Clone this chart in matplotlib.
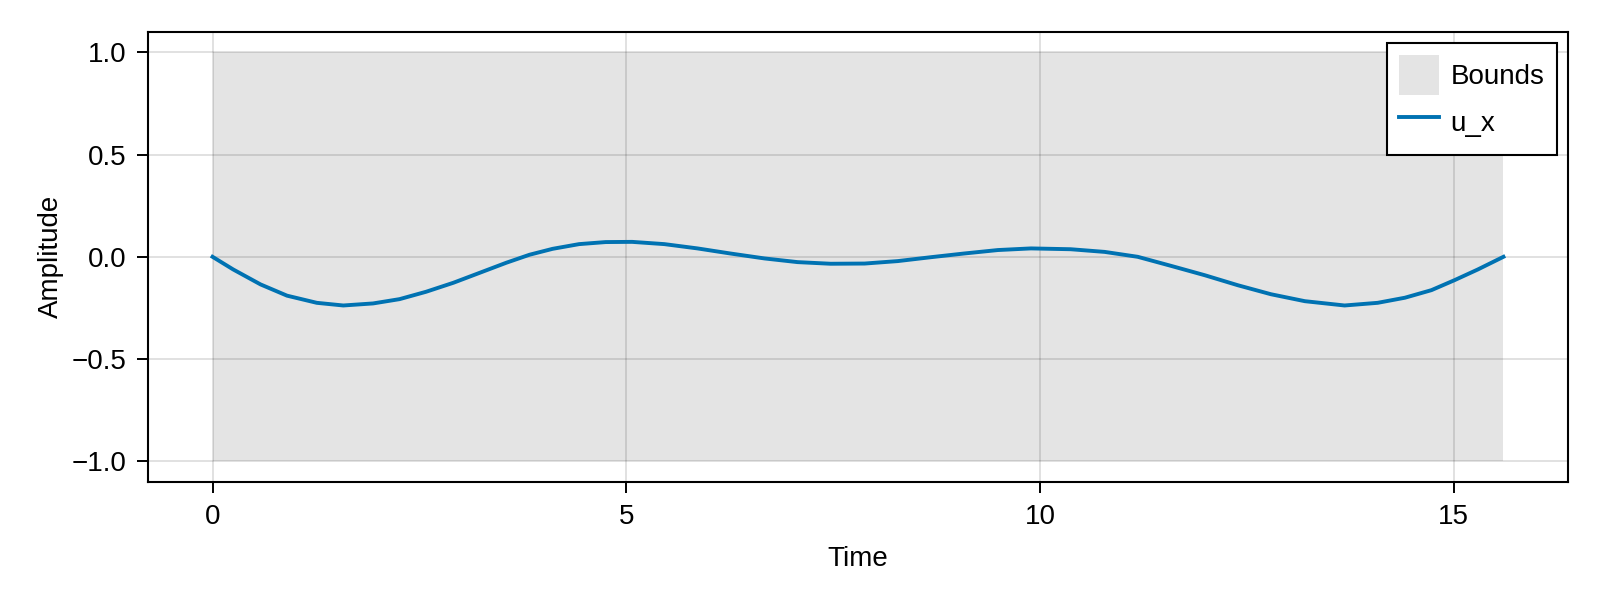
import matplotlib
matplotlib.use("Agg")
import matplotlib.pyplot as plt
from matplotlib.patches import Patch
from matplotlib.lines import Line2D

plt.rcParams['font.family'] = ['Liberation Sans', 'DejaVu Sans']
plt.rcParams['axes.unicode_minus'] = True

# Data
time = [0.0, 0.25, 0.58, 0.90, 1.26, 1.58, 1.94, 2.26, 2.58, 2.91, 3.23, 3.55,
        3.83, 4.11, 4.43, 4.75, 5.07, 5.46, 5.86, 6.26, 6.67, 7.07, 7.47, 7.88,
        8.28, 8.68, 9.08, 9.49, 9.89, 10.37, 10.78, 11.18, 11.58, 11.99, 12.39,
        12.79, 13.20, 13.68, 14.08, 14.41, 14.73, 15.01, 15.29, 15.60]
u_x = [0.0, -0.062, -0.135, -0.190, -0.225, -0.238, -0.228, -0.207, -0.171,
       -0.127, -0.078, -0.029, 0.010, 0.039, 0.062, 0.072, 0.073, 0.062, 0.041,
       0.016, -0.008, -0.026, -0.034, -0.033, -0.021, -0.002, 0.016, 0.033,
       0.041, 0.037, 0.024, 0.0, -0.044, -0.090, -0.139, -0.183, -0.217,
       -0.238, -0.225, -0.200, -0.163, -0.114, -0.062, 0.0]
bounds_t = [0.0, 15.60]
lower = [-1.0, -1.0]
upper = [1.0, 1.0]

xticks = [0, 5, 10, 15]
yticks = [-1.0, -0.5, 0.0, 0.5, 1.0]

FS = 20

fig = plt.figure(figsize=(16, 6), dpi=100)
ax = fig.add_axes([0.0925, 0.197, 0.8875, 0.75])

band_color = (0, 0, 0, 0.105)
line_color = '#0072B2'

ax.fill_between(bounds_t, lower, upper, color=band_color, linewidth=0, zorder=1)
ax.plot(time, u_x, color=line_color, linewidth=2.8, zorder=3)

ax.set_xlim(-0.78, 16.38)
ax.set_ylim(-1.1, 1.1)
ax.set_xticks(xticks)
ax.set_yticks(yticks)
ax.set_xticklabels([str(v) for v in xticks])
ax.set_yticklabels([f"{v:.1f}".replace('-', '\u2212') for v in yticks])

ax.set_axisbelow(True)
ax.grid(True, color='black', alpha=0.12, linewidth=1.4)

for s in ax.spines.values():
    s.set_linewidth(1.5)
    s.set_color('black')

ax.tick_params(axis='both', which='major', length=7.7, width=1.4,
               labelsize=FS, color='black', pad=8)

ax.set_xlabel('Time', fontsize=FS, labelpad=12)
ax.set_ylabel('Amplitude', fontsize=FS, labelpad=5)

handles = [Patch(facecolor=band_color, edgecolor='none', label='Bounds'),
           Line2D([0], [0], color=line_color, linewidth=2.8, label='u_x')]
leg = ax.legend(handles=handles, loc='upper right', fontsize=FS,
                frameon=True, fancybox=False, framealpha=1, edgecolor='black',
                borderpad=0.45, handlelength=1.44, handleheight=1.84,
                handletextpad=0.4, labelspacing=0.25, borderaxespad=0.4)
leg.get_frame().set_linewidth(1.5)

fig.savefig('out.png', dpi=100)
